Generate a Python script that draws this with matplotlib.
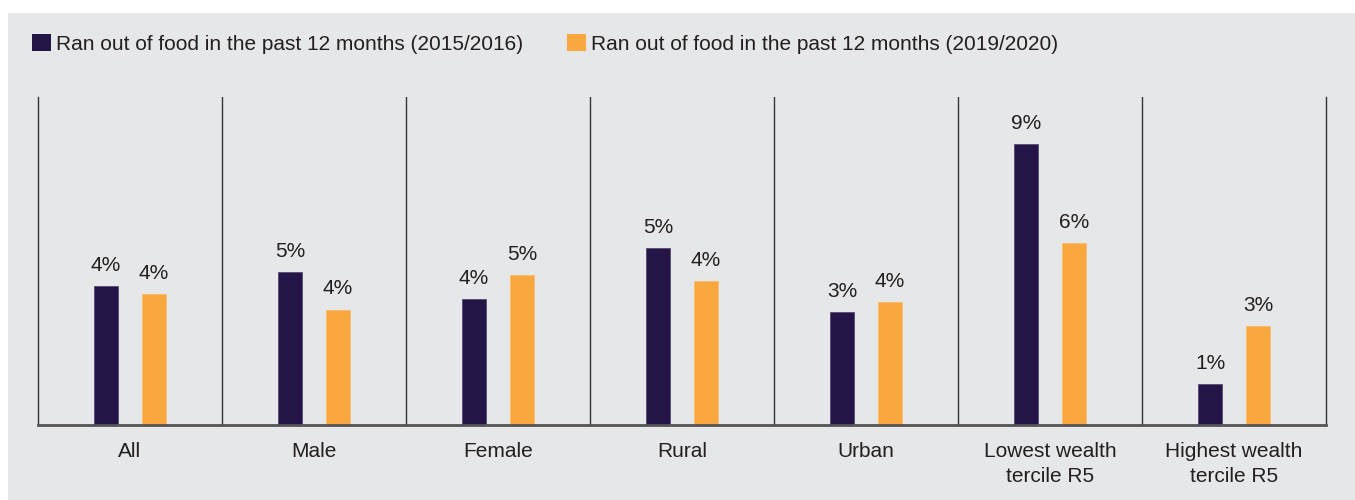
import matplotlib.pyplot as plt
from matplotlib.patches import Rectangle, Patch
import numpy as np

### data ###
categories = ["All", "Male", "Female", "Rural", "Urban",
              "Lowest wealth\ntercile R5", "Highest wealth\ntercile R5"]
food_2015 = [4.24, 4.66, 3.84, 5.40, 3.44, 8.57, 1.25]
food_2019 = [3.99, 3.52, 4.57, 4.39, 3.75, 5.55, 3.02]
series_names = ["Ran out of food in the past 12 months (2015/2016)",
                "Ran out of food in the past 12 months (2019/2020)"]
############

navy = "#231646"
orange = "#f9a73e"
bg = "#e6e7e8"
txt = "#231f20"
fs = 15

plt.rcParams['font.family'] = ['Liberation Sans', 'DejaVu Sans']

fig = plt.figure(figsize=(13.55, 5), dpi=100)
fig.patch.set_facecolor("white")
# grey panel behind everything (white margin top/left)
fig.add_artist(Rectangle((8 / 1355, 0), 1 - 8 / 1355, 1 - 13 / 500,
                         transform=fig.transFigure, facecolor=bg,
                         edgecolor="none", zorder=-10))

ax = fig.add_axes([38 / 1355, 0.15, 1288 / 1355, 0.656])
ax.patch.set_alpha(0)

x = np.arange(len(categories))
w = 0.13
b1 = ax.bar(x - w, food_2015, width=w, color=navy, edgecolor="#4a3f6b", linewidth=0.5)
b2 = ax.bar(x + w, food_2019, width=w, color=orange, edgecolor="#fbb862", linewidth=0.5)

for bars, vals in ((b1, food_2015), (b2, food_2019)):
    for rect, v in zip(bars, vals):
        ax.annotate(f"{v:.0f}%", (rect.get_x() + rect.get_width() / 2, v),
                    xytext=(0, 8), textcoords="offset points",
                    ha="center", va="bottom", fontsize=fs, color=txt)

# group separators
for xb in np.arange(0.5, len(categories) - 1, 1):
    ax.axvline(xb, color="#333333", linewidth=1.0)

ax.set_xlim(-0.5, len(categories) - 0.5)
ax.set_ylim(0, 10)
ax.spines["top"].set_visible(False)
for s in ("left", "right"):
    ax.spines[s].set_color("#333333")
    ax.spines[s].set_linewidth(1.0)
ax.spines["bottom"].set_color("#555555")
ax.spines["bottom"].set_linewidth(2)
ax.set_yticks([])
ax.set_xticks(x)
ax.set_xticklabels(categories, fontsize=fs, color=txt, linespacing=1.45)
ax.tick_params(axis="x", length=0, pad=12)

handles = [Patch(facecolor=navy), Patch(facecolor=orange)]
fig.legend(handles, series_names, loc="upper left", ncol=2,
           bbox_to_anchor=(32 / 1355, 1 - 34 / 500), frameon=False,
           fontsize=fs, handlelength=0.9, handleheight=0.9,
           handletextpad=0.25, columnspacing=2.1, labelcolor=txt,
           borderpad=0, borderaxespad=0)

fig.savefig("out.png", dpi=100)
